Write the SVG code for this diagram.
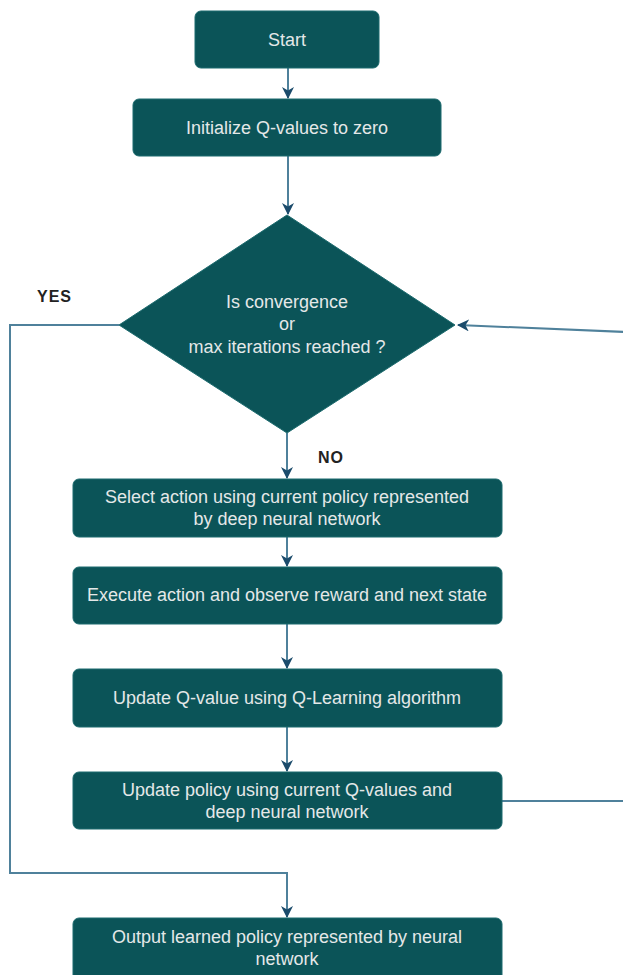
<svg xmlns="http://www.w3.org/2000/svg" width="623" height="975" viewBox="0 0 623 975">
<style>
.box{fill:#0b5458;stroke:#1d6b6e;stroke-width:1}
.t{font-family:"Liberation Sans",Arial,sans-serif;font-size:18px;fill:#e4e8e8;text-anchor:middle}
.lbl{font-family:"Liberation Sans",Arial,sans-serif;font-size:16px;font-weight:bold;fill:#222;letter-spacing:1px}
.c{fill:none;stroke:#4f819b;stroke-width:2}
</style>
<defs>
<marker id="ah" markerUnits="userSpaceOnUse" markerWidth="12" markerHeight="12" viewBox="0 0 12 12" refX="11" refY="6" orient="auto">
<path d="M0,0 L12,6 L0,12 L3.5,6 z" fill="#1b4b6b"/>
</marker>
</defs>
<rect width="623" height="975" fill="#ffffff"/>
<g id="connectors">
<path class="c" d="M288,68 L288,98" marker-end="url(#ah)"/>
<path class="c" d="M288,156 L288,214" marker-end="url(#ah)"/>
<path class="c" d="M287,433 L287,478" marker-end="url(#ah)"/>
<path class="c" d="M287,537 L287,566" marker-end="url(#ah)"/>
<path class="c" d="M287,624 L287,668" marker-end="url(#ah)"/>
<path class="c" d="M287,727 L287,771" marker-end="url(#ah)"/>
<path class="c" d="M502,801 L626,801 L626,332 L458,325" marker-end="url(#ah)"/>
<path class="c" d="M119,325 L10,325 L10,873 L287,873 L287,917" marker-end="url(#ah)"/>
</g>
<g id="start">
<rect class="box" x="195" y="11" width="184" height="57" rx="6"/>
<text class="t" x="287" y="46">Start</text>
</g>
<g id="init">
<rect class="box" x="133" y="99" width="308" height="57" rx="6"/>
<text class="t" x="287" y="134">Initialize Q-values to zero</text>
</g>
<g id="decision">
<polygon class="box" points="287,215 455,325 287,433 119,325"/>
<text class="t" x="287" y="308">Is convergence</text>
<text class="t" x="287" y="330">or</text>
<text class="t" x="287" y="353">max iterations reached ?</text>
</g>
<g id="select">
<rect class="box" x="73" y="479" width="429" height="58" rx="6"/>
<text class="t" x="287" y="503">Select action using current policy represented</text>
<text class="t" x="287" y="525">by deep neural network</text>
</g>
<g id="execute">
<rect class="box" x="73" y="567" width="429" height="57" rx="6"/>
<text class="t" x="287" y="601">Execute action and observe reward and next state</text>
</g>
<g id="updateq">
<rect class="box" x="73" y="669" width="429" height="58" rx="6"/>
<text class="t" x="287" y="704">Update Q-value using Q-Learning algorithm</text>
</g>
<g id="updatepolicy">
<rect class="box" x="73" y="772" width="429" height="57" rx="6"/>
<text class="t" x="287" y="796">Update policy using current Q-values and</text>
<text class="t" x="287" y="818">deep neural network</text>
</g>
<g id="output">
<rect class="box" x="73" y="918" width="429" height="64" rx="6"/>
<text class="t" x="287" y="943">Output learned policy represented by neural</text>
<text class="t" x="287" y="965">network</text>
</g>
<g id="labels">
<text class="lbl" x="37" y="302">YES</text>
<text class="lbl" x="318" y="463">NO</text>
</g>
</svg>
